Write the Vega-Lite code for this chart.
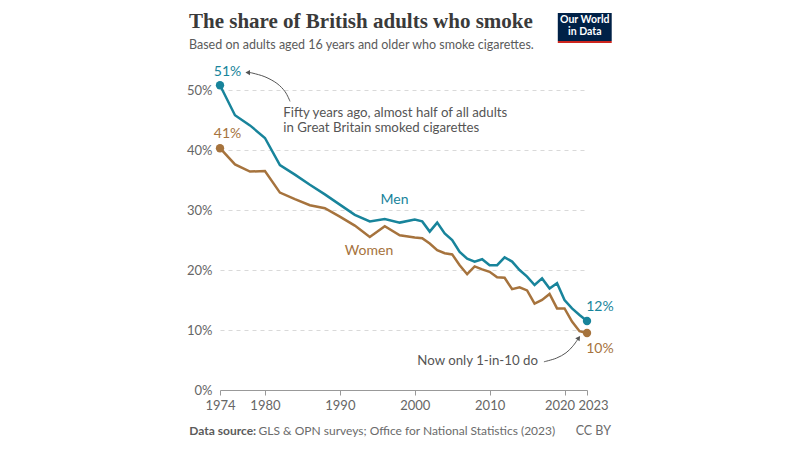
{
  "$schema": "https://vega.github.io/schema/vega-lite/v6.json",
  "width": 367,
  "height": 312,
  "autosize": "none",
  "padding": {"left": 220, "top": 78, "right": 213, "bottom": 60},
  "background": "white",
  "title": {
    "text": "The share of British adults who smoke",
    "subtitle": "Based on adults aged 16 years and older who smoke cigarettes.",
    "anchor": "start",
    "frame": "group",
    "dx": -31,
    "offset": -38,
    "font": "Liberation Serif",
    "fontSize": 21,
    "fontWeight": "bold",
    "color": "#3a3a3a",
    "subtitleFont": "Lato",
    "subtitleFontSize": 12.5,
    "subtitleColor": "#5b5b5b",
    "subtitlePadding": 7
  },
  "config": {"view": {"stroke": null}, "font": "Lato"},
  "layer": [
    {
      "data": {
        "values": [
          {"year": 1974, "group": "Men", "value": 50.8},
          {"year": 1976, "group": "Men", "value": 45.8},
          {"year": 1978, "group": "Men", "value": 44.1},
          {"year": 1980, "group": "Men", "value": 42.0},
          {"year": 1982, "group": "Men", "value": 37.5},
          {"year": 1984, "group": "Men", "value": 35.9},
          {"year": 1986, "group": "Men", "value": 34.2},
          {"year": 1988, "group": "Men", "value": 32.6},
          {"year": 1990, "group": "Men", "value": 30.9},
          {"year": 1992, "group": "Men", "value": 29.2},
          {"year": 1994, "group": "Men", "value": 28.1},
          {"year": 1996, "group": "Men", "value": 28.5},
          {"year": 1998, "group": "Men", "value": 27.9},
          {"year": 2000, "group": "Men", "value": 28.4},
          {"year": 2001, "group": "Men", "value": 28.1},
          {"year": 2002, "group": "Men", "value": 26.4},
          {"year": 2003, "group": "Men", "value": 27.9},
          {"year": 2004, "group": "Men", "value": 26.1},
          {"year": 2005, "group": "Men", "value": 25.0},
          {"year": 2006, "group": "Men", "value": 23.0},
          {"year": 2007, "group": "Men", "value": 21.9},
          {"year": 2008, "group": "Men", "value": 21.4},
          {"year": 2009, "group": "Men", "value": 21.8},
          {"year": 2010, "group": "Men", "value": 20.8},
          {"year": 2011, "group": "Men", "value": 20.8},
          {"year": 2012, "group": "Men", "value": 22.1},
          {"year": 2013, "group": "Men", "value": 21.4},
          {"year": 2014, "group": "Men", "value": 20.0},
          {"year": 2015, "group": "Men", "value": 18.9},
          {"year": 2016, "group": "Men", "value": 17.5},
          {"year": 2017, "group": "Men", "value": 18.6},
          {"year": 2018, "group": "Men", "value": 16.9},
          {"year": 2019, "group": "Men", "value": 17.8},
          {"year": 2020, "group": "Men", "value": 15.0},
          {"year": 2021, "group": "Men", "value": 13.6},
          {"year": 2022, "group": "Men", "value": 12.5},
          {"year": 2023, "group": "Men", "value": 11.5},
          {"year": 1974, "group": "Women", "value": 40.3},
          {"year": 1976, "group": "Women", "value": 37.6},
          {"year": 1978, "group": "Women", "value": 36.4},
          {"year": 1980, "group": "Women", "value": 36.5},
          {"year": 1982, "group": "Women", "value": 32.9},
          {"year": 1984, "group": "Women", "value": 31.8},
          {"year": 1986, "group": "Women", "value": 30.8},
          {"year": 1988, "group": "Women", "value": 30.3},
          {"year": 1990, "group": "Women", "value": 28.9},
          {"year": 1992, "group": "Women", "value": 27.4},
          {"year": 1994, "group": "Women", "value": 25.5},
          {"year": 1996, "group": "Women", "value": 27.3},
          {"year": 1998, "group": "Women", "value": 25.8},
          {"year": 2000, "group": "Women", "value": 25.4},
          {"year": 2001, "group": "Women", "value": 25.3},
          {"year": 2002, "group": "Women", "value": 24.4},
          {"year": 2003, "group": "Women", "value": 23.3},
          {"year": 2004, "group": "Women", "value": 22.8},
          {"year": 2005, "group": "Women", "value": 22.6},
          {"year": 2006, "group": "Women", "value": 20.8},
          {"year": 2007, "group": "Women", "value": 19.3},
          {"year": 2008, "group": "Women", "value": 20.6},
          {"year": 2009, "group": "Women", "value": 20.1},
          {"year": 2010, "group": "Women", "value": 19.7},
          {"year": 2011, "group": "Women", "value": 18.8},
          {"year": 2012, "group": "Women", "value": 18.7},
          {"year": 2013, "group": "Women", "value": 16.8},
          {"year": 2014, "group": "Women", "value": 17.1},
          {"year": 2015, "group": "Women", "value": 16.6},
          {"year": 2016, "group": "Women", "value": 14.4},
          {"year": 2017, "group": "Women", "value": 15.0},
          {"year": 2018, "group": "Women", "value": 16.0},
          {"year": 2019, "group": "Women", "value": 13.6},
          {"year": 2020, "group": "Women", "value": 13.6},
          {"year": 2021, "group": "Women", "value": 11.4},
          {"year": 2022, "group": "Women", "value": 9.8},
          {"year": 2023, "group": "Women", "value": 9.5}
        ]
      },
      "layer": [
        {
          "mark": {"type": "line", "strokeWidth": 2.5, "clip": false},
          "encoding": {
            "x": {
              "field": "year",
              "type": "quantitative",
              "scale": {"domain": [1974, 2023], "nice": false, "zero": false},
              "axis": {
                "values": [1974, 1980, 1990, 2000, 2010, 2020, 2023],
                "format": "d",
                "title": null,
                "grid": false,
                "domainColor": "#999999",
                "tickColor": "#999999",
                "tickSize": 5,
                "labelColor": "#666666",
                "labelFont": "Lato",
                "labelFontSize": 13,
                "labelPadding": 4,
                "labelFlush": false,
                "labelOverlap": false,
                "labelOffset": {"expr": "datum.value == 2020 ? -5 : datum.value == 2023 ? 6 : 0"}
              }
            },
            "y": {
              "field": "value",
              "type": "quantitative",
              "scale": {"domain": [0, 52], "nice": false},
              "axis": {
                "values": [0, 10, 20, 30, 40, 50],
                "labelExpr": "datum.value + '%'",
                "title": null,
                "domain": false,
                "ticks": false,
                "labelPadding": 8,
                "gridDash": [4, 4],
                "gridColor": "#d9d9d9",
                "gridOpacity": {"expr": "datum.value == 0 ? 0 : 1"},
                "labelColor": "#666666",
                "labelFont": "Lato",
                "labelFontSize": 13
              }
            },
            "color": {
              "field": "group",
              "type": "nominal",
              "scale": {"domain": ["Men", "Women"], "range": ["#18849b", "#a6733d"]},
              "legend": null
            }
          }
        },
        {
          "transform": [{"filter": "datum.year == 1974 || datum.year == 2023"}],
          "mark": {"type": "circle", "size": 70, "opacity": 1, "clip": false},
          "encoding": {
            "x": {"field": "year", "type": "quantitative"},
            "y": {"field": "value", "type": "quantitative"},
            "color": {"field": "group", "type": "nominal", "legend": null}
          }
        }
      ]
    },
    {
      "data": {
        "values": [
          {"label": "51%", "group": "Men", "year": 1975.0, "value": 53.0},
          {"label": "41%", "group": "Women", "year": 1975.0, "value": 42.6},
          {"label": "Men", "group": "Men", "year": 1997.3, "value": 31.7},
          {"label": "Women", "group": "Women", "year": 1993.9, "value": 23.2}
        ]
      },
      "mark": {"type": "text", "align": "center", "baseline": "middle", "fontSize": 14, "font": "Lato", "clip": false},
      "encoding": {
        "x": {"field": "year", "type": "quantitative"},
        "y": {"field": "value", "type": "quantitative"},
        "text": {"field": "label"},
        "color": {"field": "group", "type": "nominal", "legend": null}
      }
    },
    {
      "data": {
        "values": [
          {"label": "12%", "group": "Men", "year": 2022.9, "value": 13.8},
          {"label": "10%", "group": "Women", "year": 2022.9, "value": 6.8}
        ]
      },
      "mark": {"type": "text", "align": "left", "baseline": "middle", "fontSize": 14, "font": "Lato", "clip": false},
      "encoding": {
        "x": {"field": "year", "type": "quantitative"},
        "y": {"field": "value", "type": "quantitative"},
        "text": {"field": "label"},
        "color": {"field": "group", "type": "nominal", "legend": null}
      }
    },
    {
      "data": {
        "values": [
          {"label": "Fifty years ago, almost half of all adults", "year": 1982.45, "value": 46.2},
          {"label": "in Great Britain smoked cigarettes", "year": 1982.45, "value": 43.7}
        ]
      },
      "mark": {"type": "text", "align": "left", "baseline": "middle", "fontSize": 13.25, "font": "Lato", "color": "#555555", "clip": false},
      "encoding": {
        "x": {"field": "year", "type": "quantitative"},
        "y": {"field": "value", "type": "quantitative"},
        "text": {"field": "label"}
      }
    },
    {
      "data": {"values": [{"label": "Now only 1-in-10 do", "year": 2016.45, "value": 4.8}]},
      "mark": {"type": "text", "align": "right", "baseline": "middle", "fontSize": 13.25, "font": "Lato", "color": "#555555", "clip": false},
      "encoding": {
        "x": {"field": "year", "type": "quantitative"},
        "y": {"field": "value", "type": "quantitative"},
        "text": {"field": "label"}
      }
    },
    {
      "data": {
        "values": [
          {"arrow": "top", "seq": 1, "year": 1983.35, "value": 48.1},
          {"arrow": "top", "seq": 2, "year": 1982.7, "value": 49.7},
          {"arrow": "top", "seq": 3, "year": 1981.6, "value": 51.1},
          {"arrow": "top", "seq": 4, "year": 1980.0, "value": 52.2},
          {"arrow": "top", "seq": 5, "year": 1978.4, "value": 52.8},
          {"arrow": "top", "seq": 6, "year": 1977.9, "value": 52.9},
          {"arrow": "bottom", "seq": 1, "year": 2017.25, "value": 4.7},
          {"arrow": "bottom", "seq": 2, "year": 2018.9, "value": 5.3},
          {"arrow": "bottom", "seq": 3, "year": 2020.2, "value": 6.2},
          {"arrow": "bottom", "seq": 4, "year": 2021.1, "value": 7.3},
          {"arrow": "bottom", "seq": 5, "year": 2021.8, "value": 8.5}
        ]
      },
      "mark": {"type": "line", "interpolate": "cardinal", "stroke": "#555555", "strokeWidth": 1, "clip": false},
      "encoding": {
        "x": {"field": "year", "type": "quantitative"},
        "y": {"field": "value", "type": "quantitative"},
        "detail": {"field": "arrow"},
        "order": {"field": "seq", "type": "quantitative"}
      }
    },
    {
      "data": {"values": [{"arrow": "top", "year": 1977.7, "value": 52.9}]},
      "mark": {"type": "point", "shape": "triangle-left", "filled": true, "size": 28, "color": "#555555", "opacity": 1, "clip": false},
      "encoding": {
        "x": {"field": "year", "type": "quantitative"},
        "y": {"field": "value", "type": "quantitative"}
      }
    },
    {
      "data": {"values": [{"arrow": "bottom", "year": 2021.9, "value": 8.7}]},
      "mark": {"type": "point", "shape": "triangle-up", "angle": 35, "filled": true, "size": 28, "color": "#555555", "opacity": 1, "clip": false},
      "encoding": {
        "x": {"field": "year", "type": "quantitative"},
        "y": {"field": "value", "type": "quantitative"}
      }
    },
    {
      "data": {"values": [{"label": "Data source:", "year": 1969.9, "value": -6.8}]},
      "mark": {"type": "text", "align": "left", "baseline": "middle", "fontSize": 12, "font": "Lato", "fontWeight": "bold", "color": "#5b5b5b", "clip": false},
      "encoding": {
        "x": {"field": "year", "type": "quantitative"},
        "y": {"field": "value", "type": "quantitative"},
        "text": {"field": "label"}
      }
    },
    {
      "data": {"values": [{"label": "GLS & OPN surveys; Office for National Statistics (2023)", "year": 1979.15, "value": -6.8}]},
      "mark": {"type": "text", "align": "left", "baseline": "middle", "fontSize": 12, "font": "Lato", "color": "#6b6b6b", "clip": false},
      "encoding": {
        "x": {"field": "year", "type": "quantitative"},
        "y": {"field": "value", "type": "quantitative"},
        "text": {"field": "label"}
      }
    },
    {
      "data": {"values": [{"label": "CC BY", "year": 2026.2, "value": -6.8}]},
      "mark": {"type": "text", "align": "right", "baseline": "middle", "fontSize": 12.5, "font": "Lato", "color": "#6b6b6b", "clip": false},
      "encoding": {
        "x": {"field": "year", "type": "quantitative"},
        "y": {"field": "value", "type": "quantitative"},
        "text": {"field": "label"}
      }
    },
    {
      "data": {"values": [{"part": "box"}]},
      "mark": {"type": "rect", "color": "#002147", "clip": false},
      "encoding": {
        "x": {"datum": 2019.1, "type": "quantitative"},
        "x2": {"datum": 2026.3},
        "y": {"datum": 58.17, "type": "quantitative"},
        "y2": {"datum": 62.83}
      }
    },
    {
      "data": {"values": [{"part": "underline"}]},
      "mark": {"type": "rect", "color": "#ce261e", "clip": false},
      "encoding": {
        "x": {"datum": 2019.1, "type": "quantitative"},
        "x2": {"datum": 2026.3},
        "y": {"datum": 57.83, "type": "quantitative"},
        "y2": {"datum": 58.17}
      }
    },
    {
      "data": {
        "values": [
          {"label": "Our World", "year": 2022.7, "value": 61.6},
          {"label": "in Data", "year": 2022.7, "value": 59.75}
        ]
      },
      "mark": {"type": "text", "align": "center", "baseline": "middle", "fontSize": 10.5, "font": "Lato", "fontWeight": "bold", "color": "white", "clip": false},
      "encoding": {
        "x": {"field": "year", "type": "quantitative"},
        "y": {"field": "value", "type": "quantitative"},
        "text": {"field": "label"}
      }
    }
  ]
}
